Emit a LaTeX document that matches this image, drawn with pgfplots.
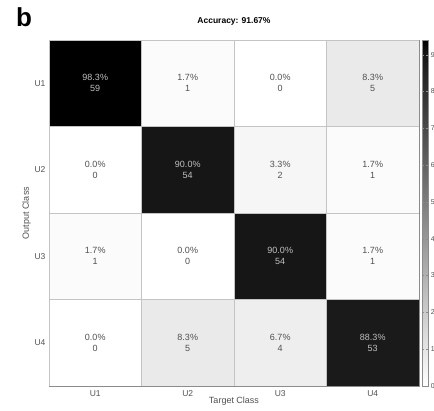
\documentclass[border=0pt]{standalone}
\usepackage{pgfplots}
\pgfplotsset{compat=1.18}
\usepackage{pgfplotstable}
\usepackage{fontspec}
\setmainfont{Liberation Sans}
\definecolor{gridc}{HTML}{C4C4C4}
\definecolor{axc}{HTML}{8C8C8C}
\definecolor{darktxt}{HTML}{505050}
\definecolor{lighttxt}{HTML}{C0C0C0}

\pgfplotstableread{
x y c
0 0 98.3
1 0 1.7
2 0 0.0
3 0 8.3
0 1 0.0
1 1 90.0
2 1 3.3
3 1 1.7
0 2 1.7
1 2 0.0
2 2 90.0
3 2 1.7
0 3 0.0
1 3 8.3
2 3 6.7
3 3 88.3
}\cmdata

% labels on light cells
\pgfplotstableread{
x y pct cnt
1 0 1.7 1
2 0 0.0 0
3 0 8.3 5
0 1 0.0 0
2 1 3.3 2
3 1 1.7 1
0 2 1.7 1
1 2 0.0 0
3 2 1.7 1
0 3 0.0 0
1 3 8.3 5
2 3 6.7 4
}\lightlab

% labels on dark cells
\pgfplotstableread{
x y pct cnt
0 0 98.3 59
1 1 90.0 54
2 2 90.0 54
3 3 88.3 53
}\darklab

\begin{document}
\begin{tikzpicture}
\useasboundingbox (0,0) rectangle (434pt,411pt);
\node[anchor=base west, inner sep=0pt, font=\fontsize{26}{28}\selectfont\bfseries] at (16pt,384pt) {b};
\begin{axis}[
  at={(49pt,25pt)}, anchor=south west,
  scale only axis, width=370pt, height=346pt,
  xmin=-0.5, xmax=3.5, ymin=-0.5, ymax=3.5,
  y dir=reverse,
  axis line style={axc, line width=0.8pt},
  xtick={0,1,2,3}, xticklabels={U1,U2,U3,U4},
  ytick={0,1,2,3}, yticklabels={U1,U2,U3,U4},
  major tick length=0pt,
  xticklabel style={font=\fontsize{8.5}{10}\selectfont, text=darktxt, yshift=-1pt},
  yticklabel style={font=\fontsize{8.5}{10}\selectfont, text=darktxt, xshift=0pt},
  xlabel={Target Class}, ylabel={Output Class},
  xlabel style={font=\fontsize{9}{10}\selectfont, text=darktxt, yshift=6pt},
  ylabel style={font=\fontsize{9}{10}\selectfont, text=darktxt, yshift=-3pt},
  title={Accuracy: 91.67\%},
  title style={font=\fontsize{8.5}{10}\selectfont\bfseries, at={(0.5,1)}, anchor=south, inner sep=0pt, yshift=9pt},
  colormap={bw}{rgb255(0)=(255,255,255) rgb255(90)=(22,22,22) rgb255(94)=(0,0,0)},
  point meta min=0, point meta max=94,
  colorbar,
  colorbar shift/.style={xshift=3pt},
  colorbar style={
    width=6pt,
    ytick={0,10,20,30,40,50,60,70,80,90},
    axis line style={axc, line width=0.6pt},
    major tick length=2pt,
    tick style={axc},
    yticklabel style={font=\fontsize{7}{8}\selectfont, text=darktxt, xshift=-1pt},
    /pgf/number format/assume math mode=true,
  },
  nodes near coords align=center,
]
\addplot[matrix plot*, mesh/cols=4, point meta=explicit, draw=gridc, line width=0.6pt]
  table[x=x, y=y, meta=c] {\cmdata};
\addplot[only marks, mark=none, point meta=\thisrow{pct},
  visualization depends on={\thisrow{cnt} \as \cnt},
  nodes near coords={\pgfmathprintnumber[fixed,precision=1,fixed zerofill]{\pgfplotspointmeta}\%\\\pgfmathprintnumber{\cnt}},
  every node near coord/.append style={align=center, anchor=center, font=\fontsize{9}{11}\selectfont, text=darktxt, /pgf/number format/assume math mode=true}]
  table[x=x, y=y] {\lightlab};
\addplot[only marks, mark=none, point meta=\thisrow{pct},
  visualization depends on={\thisrow{cnt} \as \cnt},
  nodes near coords={\pgfmathprintnumber[fixed,precision=1,fixed zerofill]{\pgfplotspointmeta}\%\\\pgfmathprintnumber{\cnt}},
  every node near coord/.append style={align=center, anchor=center, font=\fontsize{9}{11}\selectfont, text=lighttxt, /pgf/number format/assume math mode=true}]
  table[x=x, y=y] {\darklab};
\end{axis}
\end{tikzpicture}
\end{document}
